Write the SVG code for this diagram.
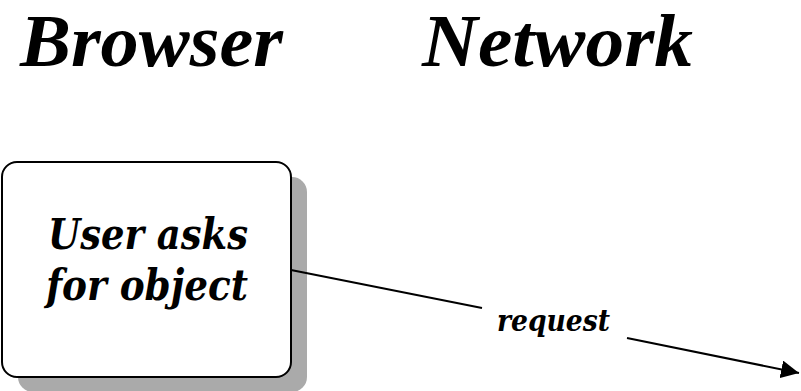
<svg xmlns="http://www.w3.org/2000/svg" width="801" height="391" viewBox="0 0 801 391">
<style>
.head{font-family:"Liberation Serif","Times New Roman",serif;font-weight:bold;font-style:italic;font-size:74px;fill:#000}
.nodetext{font-family:"DejaVu Serif",serif;font-weight:bold;font-style:italic;font-size:42px;fill:#000}
.lbl{font-family:"DejaVu Serif",serif;font-weight:bold;font-style:italic;font-size:29px;fill:#000}
.box{fill:#fff;stroke:#000;stroke-width:2}
.shadow{fill:#aaaaaa}
.conn{fill:none;stroke:#000;stroke-width:2}
</style>
<defs>
<marker id="arrow" markerUnits="userSpaceOnUse" markerWidth="18" markerHeight="18" refX="18" refY="9" orient="auto" viewBox="0 0 18 18">
<path d="M0,0 L18,9 L0,18 Z" fill="#000"/>
</marker>
</defs>
<rect width="801" height="391" fill="#fff"/>
<g id="heading-browser"><text class="head" x="20" y="66" textLength="263" lengthAdjust="spacingAndGlyphs">Browser</text></g>
<g id="heading-network"><text class="head" x="422" y="66" textLength="271" lengthAdjust="spacingAndGlyphs">Network</text></g>
<g id="node-user">
<rect class="shadow" x="18" y="177" width="289" height="215" rx="15"/>
<rect class="box" x="2" y="162" width="289" height="215" rx="15"/>
<text class="nodetext" x="48" y="249" textLength="200" lengthAdjust="spacingAndGlyphs">User asks</text>
<text class="nodetext" x="46" y="300" textLength="202" lengthAdjust="spacingAndGlyphs">for object</text>
</g>
<g id="connectors">
<line class="conn" x1="291" y1="270" x2="482" y2="308"/>
<line class="conn" x1="627" y1="338" x2="799" y2="373" marker-end="url(#arrow)"/>
<text class="lbl" x="497" y="331" textLength="113" lengthAdjust="spacingAndGlyphs">request</text>
</g>
</svg>
